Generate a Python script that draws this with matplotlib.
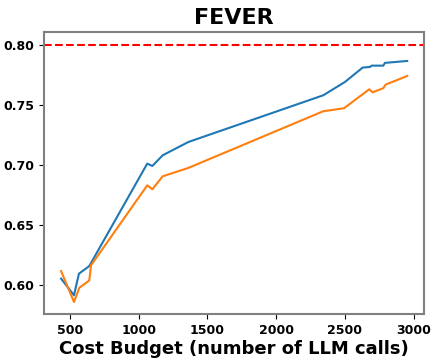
import matplotlib
matplotlib.use("Agg")
import matplotlib.pyplot as plt

# values
blue_x = [435, 529, 565, 640, 1062, 1099, 1174, 1361, 2342, 2500, 2629, 2682, 2694, 2779, 2791, 2953]
blue_y = [0.6056, 0.5917, 0.6097, 0.616, 0.7014, 0.6994, 0.7083, 0.7194, 0.7583, 0.7694,
          0.7814, 0.7819, 0.783, 0.783, 0.7853, 0.7869]
orange_x = [435, 529, 568, 640, 653, 1062, 1099, 1174, 1361, 2342, 2493, 2677, 2701, 2779, 2796, 2953]
orange_y = [0.6119, 0.5861, 0.598, 0.604, 0.6167, 0.6833, 0.68, 0.6908, 0.6978, 0.745,
            0.7475, 0.7633, 0.7608, 0.7642, 0.7672, 0.7744]
target = 0.80

fig = plt.figure(figsize=(4.38, 3.64), dpi=100)
ax = fig.add_axes([0.1005, 0.137, 0.8675, 0.775])

ax.plot(blue_x, blue_y, color="#1f77b4", linewidth=1.5)
ax.plot(orange_x, orange_y, color="#ff7f0e", linewidth=1.5)
ax.axhline(target, color="red", linestyle="--", linewidth=1.5)

ax.set_xlim(311, 3075)
ax.set_ylim(0.576, 0.811)
ax.set_xticks([500, 1000, 1500, 2000, 2500, 3000])
ax.set_yticks([0.60, 0.65, 0.70, 0.75, 0.80])
ax.set_yticklabels(["0.60", "0.65", "0.70", "0.75", "0.80"])

for lab in ax.get_xticklabels() + ax.get_yticklabels():
    lab.set_fontweight("bold")
    lab.set_fontsize(9)
for s in ax.spines.values():
    s.set_color("gray")
    s.set_linewidth(1.5)

ax.set_title("FEVER", fontsize=16, fontweight="bold")
ax.set_xlabel("Cost Budget (number of LLM calls)", fontsize=13, fontweight="bold", labelpad=2)

fig.savefig("out.png", dpi=100)
